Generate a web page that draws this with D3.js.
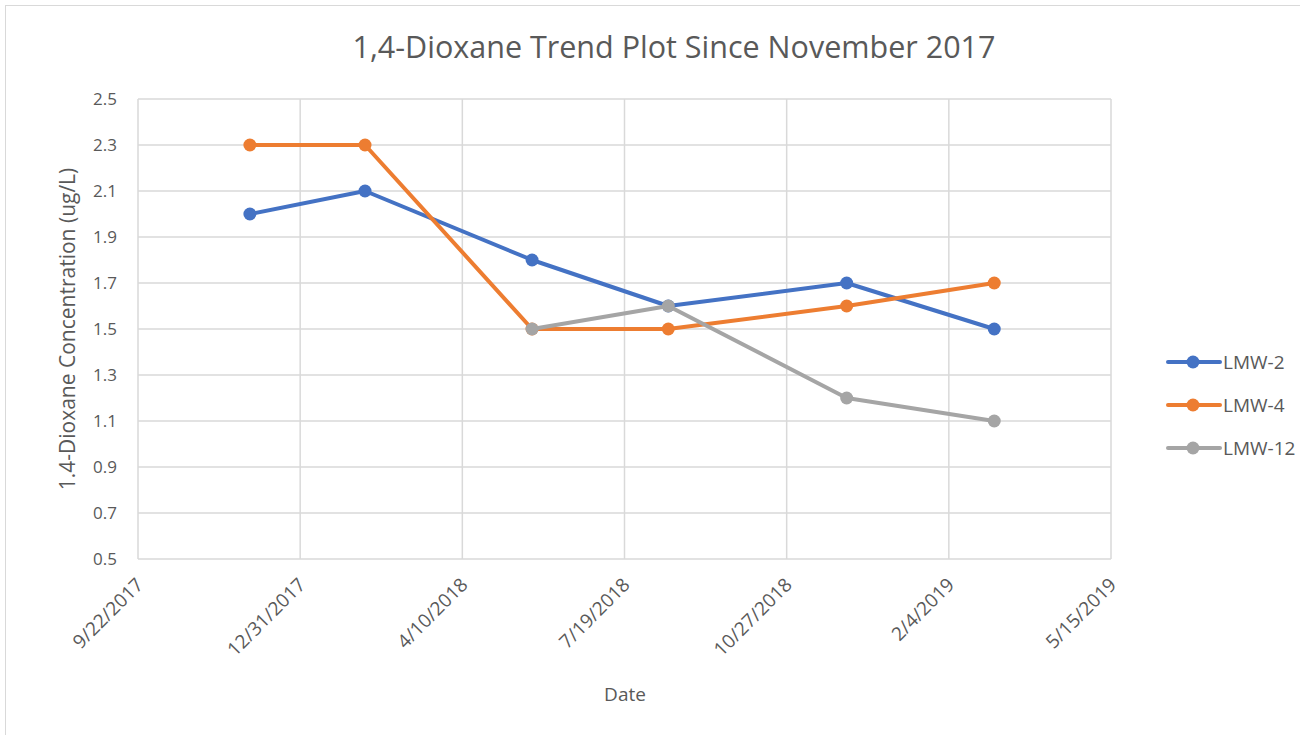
<!DOCTYPE html>
<html><head><meta charset="utf-8">
<script src="https://cdn.jsdelivr.net/npm/d3@7"></script>
<style>body{margin:0;background:#fff;} text{font-family:"Open Sans",sans-serif;}</style>
</head><body><svg id="c" width="1300" height="735"></svg>
<script>
const seriesNames = ["LMW-2", "LMW-4", "LMW-12"];
const seriesColors = ["#4472C4", "#ED7D31", "#A5A5A5"];
const lmw2Dates = ["2017-11-30", "2018-02-09", "2018-05-23", "2018-08-15", "2018-12-03", "2019-03-04"];
const lmw2Values = [2.0, 2.1, 1.8, 1.6, 1.7, 1.5];
const lmw4Dates = ["2017-11-30", "2018-02-09", "2018-05-23", "2018-08-15", "2018-12-03", "2019-03-04"];
const lmw4Values = [2.3, 2.3, 1.5, 1.5, 1.6, 1.7];
const lmw12Dates = ["2018-05-23", "2018-08-15", "2018-12-03", "2019-03-04"];
const lmw12Values = [1.5, 1.6, 1.2, 1.1];
const xTickLabels = ["9/22/2017", "12/31/2017", "4/10/2018", "7/19/2018", "10/27/2018", "2/4/2019", "5/15/2019"];
const yTicks = [0.5, 0.7, 0.9, 1.1, 1.3, 1.5, 1.7, 1.9, 2.1, 2.3, 2.5];

const svg = d3.select("#c");
const parse = d3.timeParse("%Y-%m-%d");
const parseTick = d3.timeParse("%m/%d/%Y");
const tickDates = xTickLabels.map(parseTick);

const L = 138, R = 1111, T = 99, B = 559;
const x = d3.scaleTime().domain([tickDates[0], tickDates[tickDates.length-1]]).range([L, R]);
const y = d3.scaleLinear().domain([0.5, 2.5]).range([B, T]);

// outer border
svg.append("rect").attr("x", 5.5).attr("y", 5.5).attr("width", 1310).attr("height", 760)
  .attr("fill", "none").attr("stroke", "#d9d9d9").attr("stroke-width", 1);

// title
svg.append("text").attr("x", 674).attr("y", 58).attr("text-anchor", "middle")
  .attr("font-size", 30.5).attr("fill", "#595959").text("1,4-Dioxane Trend Plot Since November 2017");

// gridlines
const grid = svg.append("g");
grid.selectAll("line.h").data(yTicks).join("line")
  .attr("x1", L).attr("x2", R).attr("y1", d => y(d)).attr("y2", d => y(d))
  .attr("stroke", "#d9d9d9").attr("stroke-width", 1.5);
grid.selectAll("line.v").data(tickDates).join("line")
  .attr("y1", T).attr("y2", B).attr("x1", d => x(d)).attr("x2", d => x(d))
  .attr("stroke", "#d9d9d9").attr("stroke-width", 1.5);

// y axis
const yAxis = svg.append("g").attr("transform", `translate(${L},0)`)
  .call(d3.axisLeft(y).tickValues(yTicks).tickFormat(d3.format(".1f")).tickSize(0).tickPadding(21));
yAxis.select(".domain").remove();
yAxis.selectAll("text").attr("font-size", 17).attr("fill", "#595959").attr("font-family", "Open Sans");

// x axis
const xAxis = svg.append("g").attr("transform", `translate(0,${B})`)
  .call(d3.axisBottom(x).tickValues(tickDates).tickFormat((d, i) => xTickLabels[i]).tickSize(0));
xAxis.select(".domain").remove();
xAxis.selectAll("text").attr("font-size", 19).attr("fill", "#595959").attr("font-family", "Open Sans")
  .attr("text-anchor", "end").attr("dy", null).attr("y", 0)
  .attr("transform", "translate(6,27) rotate(-45)");

// axis titles
svg.append("text").attr("x", 625).attr("y", 701).attr("text-anchor", "middle")
  .attr("font-size", 19).attr("fill", "#595959").text("Date");
svg.append("text").attr("transform", "translate(75,329) rotate(-90)").attr("text-anchor", "middle")
  .attr("font-size", 21).attr("fill", "#595959").text("1.4-Dioxane Concentration (ug/L)");

// series
const series = [
  {name: seriesNames[0], color: seriesColors[0], data: lmw2Dates.map((d, i) => ({d: parse(d), v: lmw2Values[i]}))},
  {name: seriesNames[1], color: seriesColors[1], data: lmw4Dates.map((d, i) => ({d: parse(d), v: lmw4Values[i]}))},
  {name: seriesNames[2], color: seriesColors[2], data: lmw12Dates.map((d, i) => ({d: parse(d), v: lmw12Values[i]}))}
];
const line = d3.line().x(p => x(p.d)).y(p => y(p.v));
series.forEach(s => {
  const g = svg.append("g");
  g.append("path").attr("d", line(s.data)).attr("fill", "none").attr("stroke", s.color)
    .attr("stroke-width", 4).attr("stroke-linejoin", "round").attr("stroke-linecap", "round");
  g.selectAll("circle").data(s.data).join("circle")
    .attr("cx", p => x(p.d)).attr("cy", p => y(p.v)).attr("r", 6.5).attr("fill", s.color);
});

// legend
const lg = svg.append("g");
series.forEach((s, i) => {
  const ly = 362 + i * 43;
  lg.append("line").attr("x1", 1168).attr("x2", 1220).attr("y1", ly).attr("y2", ly)
    .attr("stroke", s.color).attr("stroke-width", 4).attr("stroke-linecap", "round");
  lg.append("circle").attr("cx", 1193).attr("cy", ly).attr("r", 6.5).attr("fill", s.color);
  lg.append("text").attr("x", 1223).attr("y", ly + 7).attr("font-size", 19).attr("fill", "#595959").text(s.name);
});
</script></body></html>
